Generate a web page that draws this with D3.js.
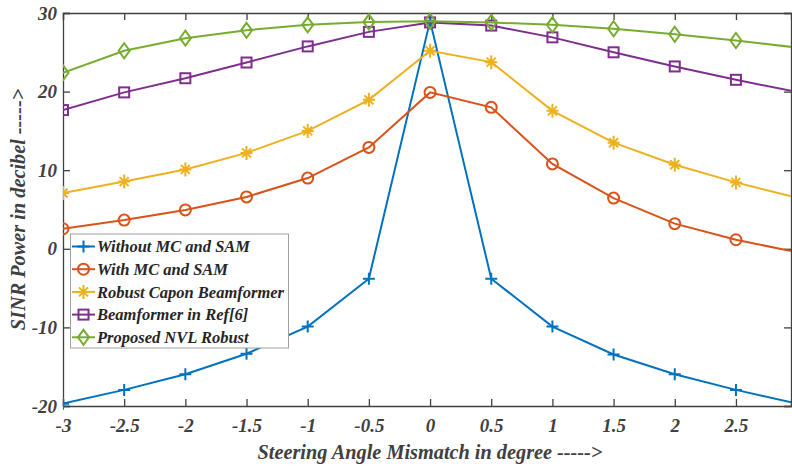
<!DOCTYPE html>
<html><head><meta charset="utf-8">
<script src="https://cdn.jsdelivr.net/npm/d3@7"></script>
<style>body{margin:0;background:#fff}svg{display:block}</style>
</head><body><svg id="c" width="792" height="466"></svg>
<script>
const xVals = [-3,-2.5,-2,-1.5,-1,-0.5,0,0.5,1,1.5,2,2.5,3];
const xTicks = [-3,-2.5,-2,-1.5,-1,-0.5,0,0.5,1,1.5,2,2.5];
const yTicks = [-20,-10,0,10,20,30];
const seriesNames = ["Without MC and SAM","With MC and SAM","Robust Capon Beamformer","Beamformer in Ref[6]","Proposed NVL Robust"];
const withoutMC = [-19.7,-17.95,-15.95,-13.35,-9.9,-3.8,29.0,-3.8,-9.9,-13.45,-15.95,-17.95,-19.7];
const withMC    = [2.55,3.65,4.95,6.6,9.0,12.9,19.9,18.0,10.8,6.45,3.2,1.15,-0.45];
const capon     = [7.1,8.55,10.1,12.2,15.0,18.95,25.2,23.75,17.55,13.5,10.7,8.45,6.5];
const ref6      = [17.65,19.9,21.7,23.7,25.75,27.6,28.8,28.4,26.9,25.0,23.2,21.5,19.95];
const proposed  = [22.4,25.2,26.8,27.8,28.5,28.85,28.95,28.8,28.5,28.0,27.3,26.5,25.6];
const colors = ["#0072BD","#D95319","#EDB120","#7E2F8E","#77AC30"];
const markers = ["plus","circle","star","square","diamond"];
const allSeries = [withoutMC, withMC, capon, ref6, proposed];

const svg = d3.select("#c");
const L=63, R=791, T=13, B=406;
const x = d3.scaleLinear().domain([-3,2.95]).range([L,R]);
const y = d3.scaleLinear().domain([-20,30]).range([B,T]);
const axCol = "#404040";
const font = "'Liberation Serif','Times New Roman',serif";

svg.append("defs").append("clipPath").attr("id","clip").append("rect")
  .attr("x",L).attr("y",T-8).attr("width",R-L).attr("height",B-T+16);

const gx = svg.append("g").attr("transform",`translate(0,${B})`)
  .call(d3.axisBottom(x).tickValues(xTicks).tickSize(-7).tickPadding(13).tickFormat(d=>String(d)));
const gxt = svg.append("g").attr("transform",`translate(0,${T})`)
  .call(d3.axisTop(x).tickValues(xTicks).tickSize(-7).tickFormat(""));
const gy = svg.append("g").attr("transform",`translate(${L},0)`)
  .call(d3.axisLeft(y).tickValues(yTicks).tickSize(-7).tickPadding(6).tickFormat(d=>String(d)));
const gyr = svg.append("g").attr("transform",`translate(${R},0)`)
  .call(d3.axisRight(y).tickValues(yTicks).tickSize(-7).tickFormat(""));
[gx,gxt,gy,gyr].forEach(g=>{
  g.select(".domain").attr("stroke",axCol).attr("stroke-width",1.3);
  g.selectAll(".tick line").attr("stroke",axCol).attr("stroke-width",1.3);
  g.selectAll("text").attr("fill",axCol).style("font-family",font)
   .style("font-size","19px").style("font-weight","bold").style("font-style","italic");
});
gx.selectAll("text").attr("dy","0.71em");

function drawMarker(g, type, cx, cy, col){
  const s = g.append("g").attr("transform",`translate(${cx},${cy})`)
    .attr("fill","none").attr("stroke",col).attr("stroke-width",2);
  if(type==="plus"){
    s.append("path").attr("d","M-6,0H6M0,-6V6");
  } else if(type==="circle"){
    s.append("circle").attr("r",5.5);
  } else if(type==="star"){
    s.append("path").attr("d","M-6,0H6M0,-7V7M-4.5,-4.5L4.5,4.5M-4.5,4.5L4.5,-4.5");
  } else if(type==="square"){
    s.append("rect").attr("x",-5).attr("y",-5).attr("width",10).attr("height",10);
  } else if(type==="diamond"){
    s.append("path").attr("d","M0,-7.5L5.5,0L0,7.5L-5.5,0Z");
  }
}

const plot = svg.append("g").attr("clip-path","url(#clip)");
const line = d3.line().x((d,i)=>x(xVals[i])).y(d=>y(d));
allSeries.forEach((s,k)=>{
  plot.append("path").datum(s).attr("d",line).attr("fill","none")
    .attr("stroke",colors[k]).attr("stroke-width",2);
  s.forEach((v,i)=>{ if(xVals[i] <= 2.95) drawMarker(plot, markers[k], x(xVals[i]), y(v), colors[k]); });
});

const lg = svg.append("g");
lg.append("rect").attr("x",70.5).attr("y",234).attr("width",218).attr("height",114)
  .attr("fill","#fff").attr("stroke","#a0a0a0").attr("stroke-width",1);
seriesNames.forEach((n,k)=>{
  const yy = 246.5 + k*22.7;
  lg.append("line").attr("x1",72).attr("x2",95).attr("y1",yy).attr("y2",yy)
    .attr("stroke",colors[k]).attr("stroke-width",2);
  drawMarker(lg, markers[k], 83.5, yy, colors[k]);
  lg.append("text").attr("x",97).attr("y",yy).attr("dy","0.35em").text(n)
    .attr("fill","#262626").style("font-family",font).style("font-size","16.5px")
    .style("font-weight","bold").style("font-style","italic");
});

svg.append("text").attr("x",430).attr("y",459).attr("text-anchor","middle")
  .text("Steering Angle Mismatch in degree ----->").attr("fill",axCol)
  .style("font-family",font).style("font-size","20.3px").style("font-weight","bold").style("font-style","italic");
svg.append("text").attr("transform",`translate(25,${(T+B)/2}) rotate(-90)`).attr("text-anchor","middle")
  .text("SINR Power in decibel ----->").attr("fill",axCol)
  .style("font-family",font).style("font-size","20.3px").style("font-weight","bold").style("font-style","italic");
</script></body></html>
